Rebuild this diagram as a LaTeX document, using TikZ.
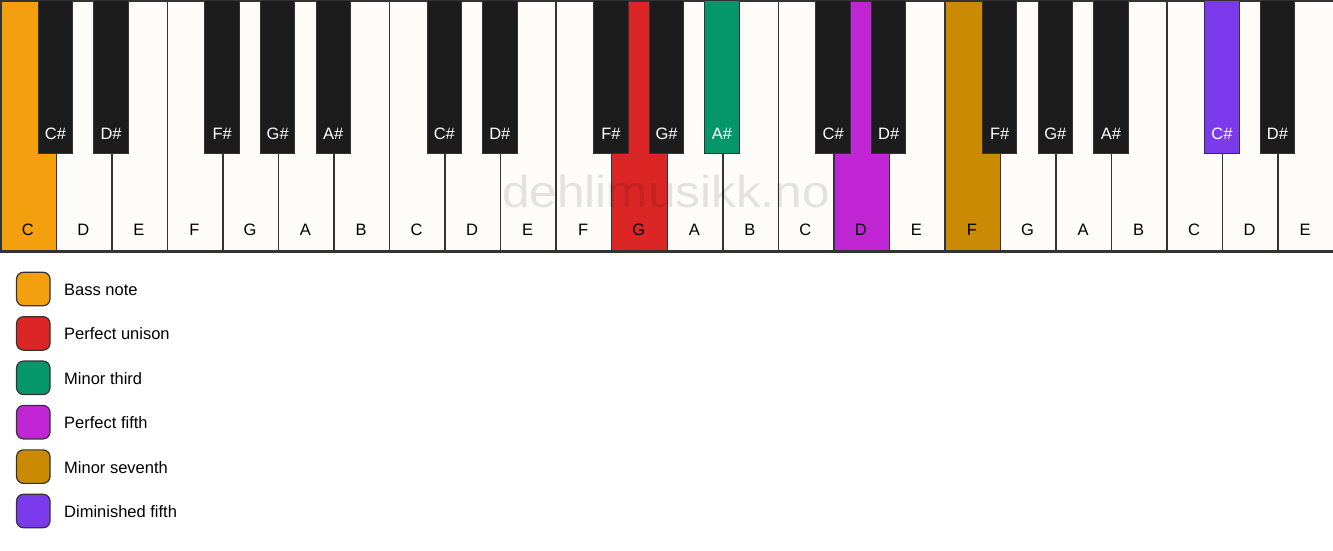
\documentclass[tikz,border=0pt]{standalone}
\usepackage{fontspec}
\setmainfont{Liberation Sans}
\definecolor{keywhite}{HTML}{FDFCF9}
\definecolor{keyblack}{HTML}{1C1C1C}
\definecolor{keyline}{HTML}{333333}
\definecolor{bass}{HTML}{F49F0E}
\definecolor{unison}{HTML}{DC2626}
\definecolor{minthird}{HTML}{059669}
\definecolor{pfifth}{HTML}{C026D3}
\definecolor{minseventh}{HTML}{CA8A04}
\definecolor{dimfifth}{HTML}{7C3AED}
\begin{document}
\begin{tikzpicture}[x=1pt,y=-1pt,
  wkey/.style={draw=keyline, line width=1.5pt, minimum width=55.5417pt, minimum height=250pt, inner sep=0pt, anchor=north west},
  bkey/.style={draw=keyline, line width=1pt, minimum width=34.4pt, minimum height=153pt, inner sep=0pt, anchor=north},
  wlabel/.style={font=\fontsize{16.5}{16.5}\selectfont, anchor=base, text=black, inner sep=0pt},
  blabel/.style={font=\fontsize{16.5}{16.5}\selectfont, anchor=base, inner sep=0pt},
  legbox/.style={draw=keyline, line width=1.2pt, rounded corners=7pt, minimum width=33.5pt, minimum height=33.5pt, inner sep=0pt},
  legtext/.style={font=\fontsize{16.5}{16.5}\selectfont, anchor=base west, inner sep=0pt, text=black}]
\useasboundingbox[fill=white] (0,0) rectangle (1333,550);
\def\W{55.5417}
% white keys
\foreach \n/\f [count=\i from 0] in {C/bass,D/keywhite,E/keywhite,F/keywhite,G/keywhite,A/keywhite,B/keywhite,C/keywhite,D/keywhite,E/keywhite,F/keywhite,G/unison,A/keywhite,B/keywhite,C/keywhite,D/pfifth,E/keywhite,F/minseventh,G/keywhite,A/keywhite,B/keywhite,C/keywhite,D/keywhite,E/keywhite}{
  \node[wkey, fill=\f] (w\i) at ({\i*\W},0) {};
  \node[wlabel] (wl\i) at ({(\i+0.5)*\W},235.5) {\n};
}
% black keys
\foreach \k/\n/\f/\t [count=\j] in {1/C\#/keyblack/white,2/D\#/keyblack/white,4/F\#/keyblack/white,5/G\#/keyblack/white,6/A\#/keyblack/white,8/C\#/keyblack/white,9/D\#/keyblack/white,11/F\#/keyblack/white,12/G\#/keyblack/white,13/A\#/minthird/white,15/C\#/keyblack/white,16/D\#/keyblack/white,18/F\#/keyblack/white,19/G\#/keyblack/white,20/A\#/keyblack/white,22/C\#/dimfifth/white,23/D\#/keyblack/white}{
  \node[bkey, fill=\f] (b\j) at ({\k*\W},0) {};
  \node[blabel, text=\t] (bl\j) at ({\k*\W},139) {\n};
}
% bottom edge
\draw[keyline, line width=2pt] (w0.south west) -- (w23.south east);
% watermark
\node[font=\fontsize{45}{45}\selectfont, xscale=1.1, text=black, text opacity=0.1, inner sep=0pt, anchor=base] (wm) at (666,207) {dehlimusikk.no};
% legend
\foreach \c/\t [count=\i from 0] in {bass/Bass note,unison/Perfect unison,minthird/Minor third,pfifth/Perfect fifth,minseventh/Minor seventh,dimfifth/Diminished fifth}{
  \node[legbox, fill=\c] (lb\i) at (33.3,{289+\i*44.4}) {};
  \node[legtext] (lt\i) at (64,{295.5+\i*44.4}) {\t};
}
\end{tikzpicture}
\end{document}
